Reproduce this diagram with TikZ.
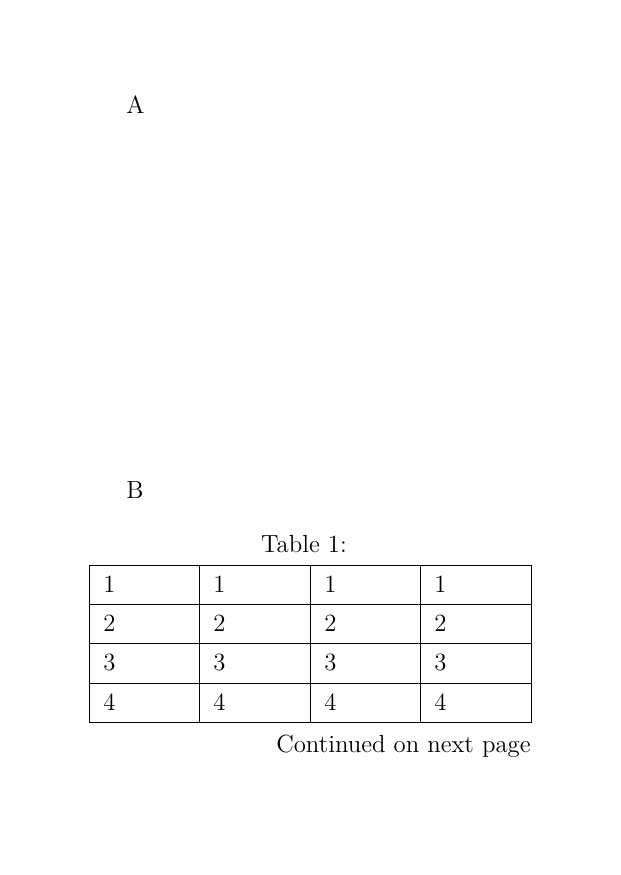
\documentclass[tikz,border=0pt]{standalone}
\usepackage{tikz}

\begin{document}
\begin{tikzpicture}[x=0.5pt,y=-0.5pt,font=\fontsize{12.4}{15}\selectfont,
    cell/.style={anchor=base west,inner sep=0pt}]
    \useasboundingbox (0,0) rectangle (621,875);
    \node [cell] (lblA) at (126,113) {A};
    \node [cell] (lblB) at (126,498) {B};
    \node [anchor=base,inner sep=0pt] (caption) at (304,552) {Table 1:};
    % table grid
    \draw[thin](89,565) rectangle (531,722);
    \draw[thin](89,604)--(531,604);
    \draw[thin](89,643)--(531,643);
    \draw[thin](89,683)--(531,683);
    \draw[thin](199,565)--(199,722);
    \draw[thin](310,565)--(310,722);
    \draw[thin](420,565)--(420,722);
    \foreach \r/\y in {1/592,2/631,3/670,4/710}
      \foreach \c/\x in {1/103,2/213,3/324,4/434}
        \node [cell] (c\r\c) at (\x,\y) {\r};
    \node [anchor=base east,inner sep=0pt] (cont) at (531,752)
    {Continued on next page};
\end{tikzpicture}
\end{document}
